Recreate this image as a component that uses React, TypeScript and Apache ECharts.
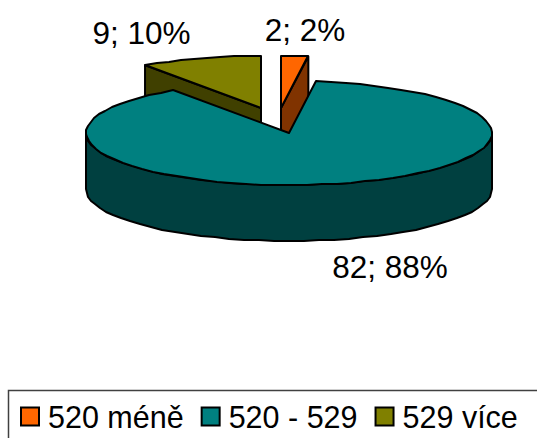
import React, { useEffect, useRef } from "react";
import * as echarts from "echarts";

const categories = ["520 méně", "520 - 529", "529 více"];
const counts = [2, 82, 9];
const topColors = ["#FF6600", "#008080", "#808000"];
const wallColors = ["#803300", "#004040", "#404000"];

// Pie geometry in page pixels
const CX = 289;
const CY = 133;
const RX = 203;
const RY = 52;
const DEPTH = 56;
const OUTLINE = { stroke: "#000", lineWidth: 2, lineJoin: "round" as const };

// Pull-out of each slice, painting order and label anchor
const explode = [[-8, -25], [0, 0], [-28, -25]];
const paintOrder = [2, 3, 1];
const labelAt = [[305, 30], [390, 267], [141.5, 33]];

const total = counts.reduce((a, b) => a + b, 0);
const toRad = (v: number) => (v / total) * Math.PI * 2;

function rimPoint(a: number, ox: number, oy: number): number[] {
  return [CX + ox + RX * Math.sin(a), CY + oy - RY * Math.cos(a)];
}

// The rim is a coarse pixel-snapped polyline, which gives it a faintly stepped edge
function arc(a0: number, a1: number, ox: number, oy: number, dy = 0): number[][] {
  const n = Math.max(2, Math.ceil((a1 - a0) / 0.075));
  const pts: number[][] = [];
  for (let i = 0; i <= n; i++) {
    const p = rimPoint(a0 + ((a1 - a0) * i) / n, ox, oy);
    pts.push([Math.round(p[0]), Math.round(p[1]) + dy]);
  }
  return pts;
}

function sliceRenderer(index: number) {
  const before = counts.slice(0, index).reduce((a, b) => a + b, 0);
  return (_params: unknown, api: any) => {
    const value = api.value(0);
    const a0 = toRad(before);
    const a1 = toRad(before + value);
    const [ox, oy] = explode[index];
    const apex = [CX + ox, CY + oy];
    const children: any[] = [];
    const wallStyle = { fill: wallColors[index], ...OUTLINE };

    // Front-facing part of the outer wall
    const w0 = Math.max(a0, Math.PI / 2);
    const w1 = Math.min(a1, (Math.PI * 3) / 2);
    if (w1 > w0) {
      const upper = arc(w0, w1, ox, oy);
      const lower = arc(w0, w1, ox, oy, DEPTH).reverse();
      children.push({ type: "polygon", shape: { points: [...upper, ...lower] }, style: wallStyle });
    }

    // Cut face seen through the gap: the edge that looks towards the viewer
    const cut = a1 <= Math.PI ? a1 : a0 >= Math.PI ? a0 : null;
    if (cut !== null) {
      const r = rimPoint(cut, ox, oy);
      children.push({
        type: "polygon",
        shape: { points: [apex, r, [r[0], r[1] + DEPTH], [apex[0], apex[1] + DEPTH]] },
        style: wallStyle,
      });
    }

    // Top face
    children.push({
      type: "polygon",
      shape: { points: [apex, ...arc(a0, a1, ox, oy)] },
      style: { fill: topColors[index], ...OUTLINE },
    });

    // Value and share label
    children.push({
      type: "text",
      style: {
        x: labelAt[index][0],
        y: labelAt[index][1],
        text: `${value}; ${Math.round((value / total) * 100)}%`,
        align: "center",
        verticalAlign: "middle",
        fill: "#000",
        font: '31.5px "Liberation Sans", Arial, sans-serif',
      },
    });
    return { type: "group", children };
  };
}

export default function App() {
  const ref = useRef<HTMLDivElement>(null);
  useEffect(() => {
    const chart = echarts.init(ref.current!, undefined, { renderer: "svg" });
    chart.setOption({
      animation: false,
      backgroundColor: "#fff",
      legend: {
        left: 15,
        top: 401,
        padding: [0, 0, 0, 5],
        itemWidth: 18,
        itemHeight: 18,
        itemGap: 17,
        icon: "rect",
        selectedMode: false,
        textStyle: {
          color: "#000",
          fontSize: 30.5,
          fontFamily: '"Liberation Sans", Arial, sans-serif',
          padding: [0, 0, 3, 4],
        },
        itemStyle: { borderColor: "#000", borderWidth: 2 },
        data: categories,
      },
      graphic: [
        {
          type: "rect",
          shape: { x: 8.5, y: 390.5, width: 560, height: 70 },
          style: { fill: "none", stroke: "#404040", lineWidth: 1.5 },
        },
      ],
      series: categories.map((name, i) => ({
        type: "custom",
        name,
        coordinateSystem: "none",
        z: paintOrder[i],
        itemStyle: { color: topColors[i] },
        data: [[counts[i]]],
        renderItem: sliceRenderer(i),
      })),
    });
    return () => chart.dispose();
  }, []);
  return <div ref={ref} style={{ position: "fixed", left: 0, top: 0, width: 537, height: 438 }} />;
}
